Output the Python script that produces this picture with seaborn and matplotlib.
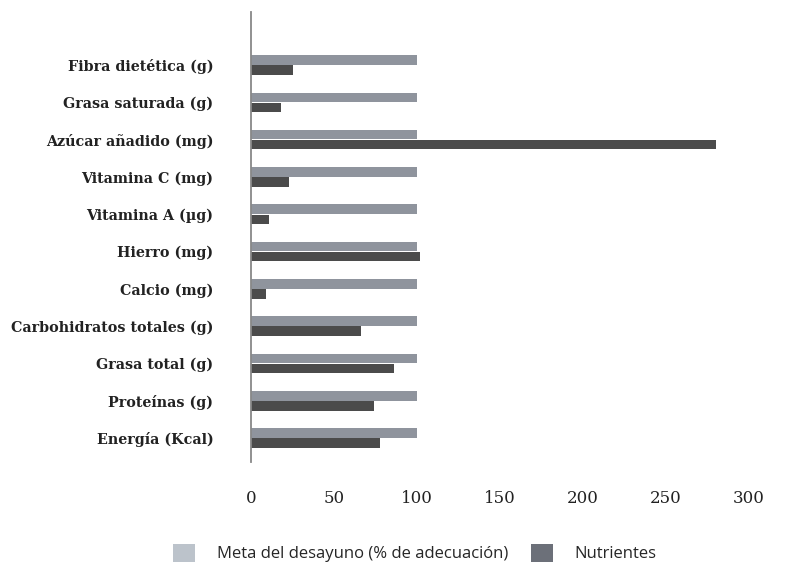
import matplotlib
matplotlib.use("Agg")
import matplotlib.pyplot as plt
from matplotlib.patches import Patch
import seaborn as sns
import pandas as pd

categorias = [
    "Fibra dietética (g)",
    "Grasa saturada (g)",
    "Azúcar añadido (mg)",
    "Vitamina C (mg)",
    "Vitamina A (µg)",
    "Hierro (mg)",
    "Calcio (mg)",
    "Carbohidratos totales (g)",
    "Grasa total (g)",
    "Proteínas (g)",
    "Energía (Kcal)",
]
meta = [100, 100, 100, 100, 100, 100, 100, 100, 100, 100, 100]
nutrientes = [25.5, 18, 280, 23, 11, 102, 9, 66, 86, 74, 78]
series = ["Meta del desayuno (% de adecuación)", "Nutrientes"]
ticks_x = [0, 50, 100, 150, 200, 250, 300]

df = pd.DataFrame({
    "categoria": categorias * 2,
    "valor": meta + nutrientes,
    "serie": [series[0]] * len(categorias) + [series[1]] * len(categorias),
})

sns.set_theme(style="white")
plt.rcParams["font.family"] = ["DejaVu Serif"]

fig = plt.figure(figsize=(7.97, 5.68), dpi=100)
W, H = 797, 568
ax = fig.add_axes([251 / W, 1 - 462 / H, (780 - 251) / W, (462 - 12) / H])

sns.barplot(
    data=df, y="categoria", x="valor", hue="serie", orient="h",
    order=categorias, hue_order=series,
    palette=["#8f949d", "#4b4b4b"], width=0.54, gap=0.06, saturation=1,
    linewidth=0, ax=ax, legend=False,
)

ax.set_xlim(0, 318.7)
ax.set_ylim(10.64, -1.42)
ax.set_xticks(ticks_x)
ax.set_xticklabels([str(t) for t in ticks_x], fontsize=12)
ax.set_xlabel("")
ax.set_ylabel("")
for lab in ax.get_yticklabels():
    lab.set_fontweight("bold")
    lab.set_fontsize(10.3)
    lab.set_color("#222222")
ax.tick_params(axis="y", length=0, pad=27)
ax.tick_params(axis="x", length=0, pad=20, colors="#222222")

for side in ["top", "right", "bottom"]:
    ax.spines[side].set_visible(False)
ax.spines["left"].set_color("#888888")
ax.spines["left"].set_linewidth(1.3)

handles = [Patch(facecolor="#bcc3cb", edgecolor="none"),
           Patch(facecolor="#6c7079", edgecolor="none")]
fig.legend(
    handles, series, loc="center", bbox_to_anchor=(415 / W, 1 - 553 / H),
    ncol=2, frameon=False, handlelength=1.3, handleheight=1.3,
    handletextpad=1.3, columnspacing=1.4,
    prop={"family": "Open Sans", "size": 12},
)

fig.savefig("out.png", dpi=100)
